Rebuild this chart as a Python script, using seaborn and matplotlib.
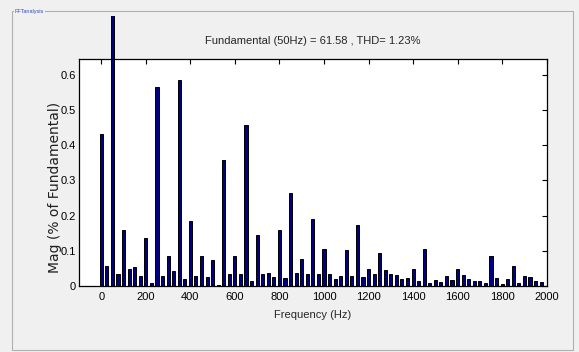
import matplotlib
matplotlib.use("Agg")
import matplotlib.pyplot as plt
import pandas as pd
import seaborn as sns
from matplotlib.patches import Rectangle
from matplotlib.transforms import Bbox, TransformedBbox

# Harmonic spectrum, 25 Hz resolution, magnitude in % of the 50 Hz fundamental
freq_hz = list(range(0, 2000, 25))
mag_pct = [0.4306, 0.0575, 100.0, 0.034, 0.1575, 0.047, 0.055, 0.029, 0.136, 0.0094,
           0.565, 0.027, 0.084, 0.0415, 0.5855, 0.019, 0.184, 0.029, 0.084, 0.0245,
           0.0745, 0.003, 0.357, 0.035, 0.084, 0.033, 0.458, 0.014, 0.146, 0.033,
           0.037, 0.0245, 0.159, 0.0226, 0.2645, 0.037, 0.0755, 0.033, 0.189, 0.035,
           0.104, 0.033, 0.020, 0.028, 0.103, 0.028, 0.173, 0.026, 0.048, 0.033,
           0.095, 0.044, 0.033, 0.031, 0.019, 0.0236, 0.049, 0.014, 0.104, 0.0094,
           0.016, 0.011, 0.027, 0.016, 0.047, 0.031, 0.021, 0.013, 0.015, 0.0094,
           0.086, 0.022, 0.0066, 0.019, 0.0575, 0.0094, 0.029, 0.026, 0.015, 0.011]
fundamental_hz = 50
fundamental_amp = 61.58
thd_pct = 1.23
x_ticks = list(range(0, 2001, 200))
y_ticks = [0, 0.1, 0.2, 0.3, 0.4, 0.5, 0.6]

df = pd.DataFrame({"freq": freq_hz, "mag": mag_pct})

sns.set_style("white")
plt.rcParams["font.family"] = ["Liberation Sans", "DejaVu Sans"]

W, H = 579, 352
fig = plt.figure(figsize=(W / 100, H / 100), dpi=100, facecolor="#f0f0f0")

def px_rect(x0, y0, x1, y1):
    return [x0 / W, 1 - y1 / H, (x1 - x0) / W, (y1 - y0) / H]

# group-box frame around the plot
fig.patches.append(Rectangle((12 / W, 1 - 350 / H), (573 - 12) / W, (350 - 11) / H,
                             transform=fig.transFigure, facecolor="none",
                             edgecolor="#b0b0b0", linewidth=0.8))
fig.text(15 / W, 1 - 11 / H, "FFTanalysis", fontsize=4, color="#3050c0",
         va="center", ha="left",
         bbox=dict(facecolor="#f0f0f0", edgecolor="none", pad=0.6))

ax = fig.add_axes(px_rect(79, 59, 546.7, 286))
ax.set_facecolor("white")

sns.barplot(data=df, x="freq", y="mag", native_scale=True, width=0.56,
            color="#000080", saturation=1, edgecolor="black", linewidth=0.7,
            ax=ax)

harmonics = [m for f, m in zip(freq_hz, mag_pct) if f != fundamental_hz]
ax.set_xlim(-100, 2000)
ax.set_ylim(0, 1.1 * max(harmonics))

# the fundamental bar runs past the axes, up to the frame
top_clip = TransformedBbox(Bbox([[0, 0], [1, 1 - 16 / H]]), fig.transFigure)
for p in ax.patches:
    cx = p.get_x() + p.get_width() / 2
    if abs(cx - fundamental_hz) < 1:
        p.set_clip_path(None)
        p.set_clip_box(top_clip)

ax.set_xticks(x_ticks)
ax.set_xticklabels([str(t) for t in x_ticks])
ax.set_yticks(y_ticks)
ax.set_yticklabels(["0"] + [f"{t:.1f}" for t in y_ticks[1:]])
ax.tick_params(direction="in", top=True, right=True, length=3.5, width=0.8,
               labelsize=8, colors="black")
ax.tick_params(axis="x", pad=4)
ax.tick_params(axis="y", pad=2)
for s in ax.spines.values():
    s.set_visible(True)
    s.set_color("black")
    s.set_linewidth(0.9)
ax.grid(False)

ax.set_xlabel("Frequency (Hz)", fontsize=8, labelpad=6)
ax.set_ylabel("Mag (% of Fundamental)", fontsize=10,
              family=["DejaVu Sans"], color="#202020")
ax.yaxis.set_label_coords(-17 / 467.7, (286 - 187) / 227)
ax.set_title(f"Fundamental ({fundamental_hz}Hz) = {fundamental_amp} , THD= {thd_pct}%",
             fontsize=8, pad=11)

fig.savefig("out.png", dpi=100, facecolor=fig.get_facecolor())
